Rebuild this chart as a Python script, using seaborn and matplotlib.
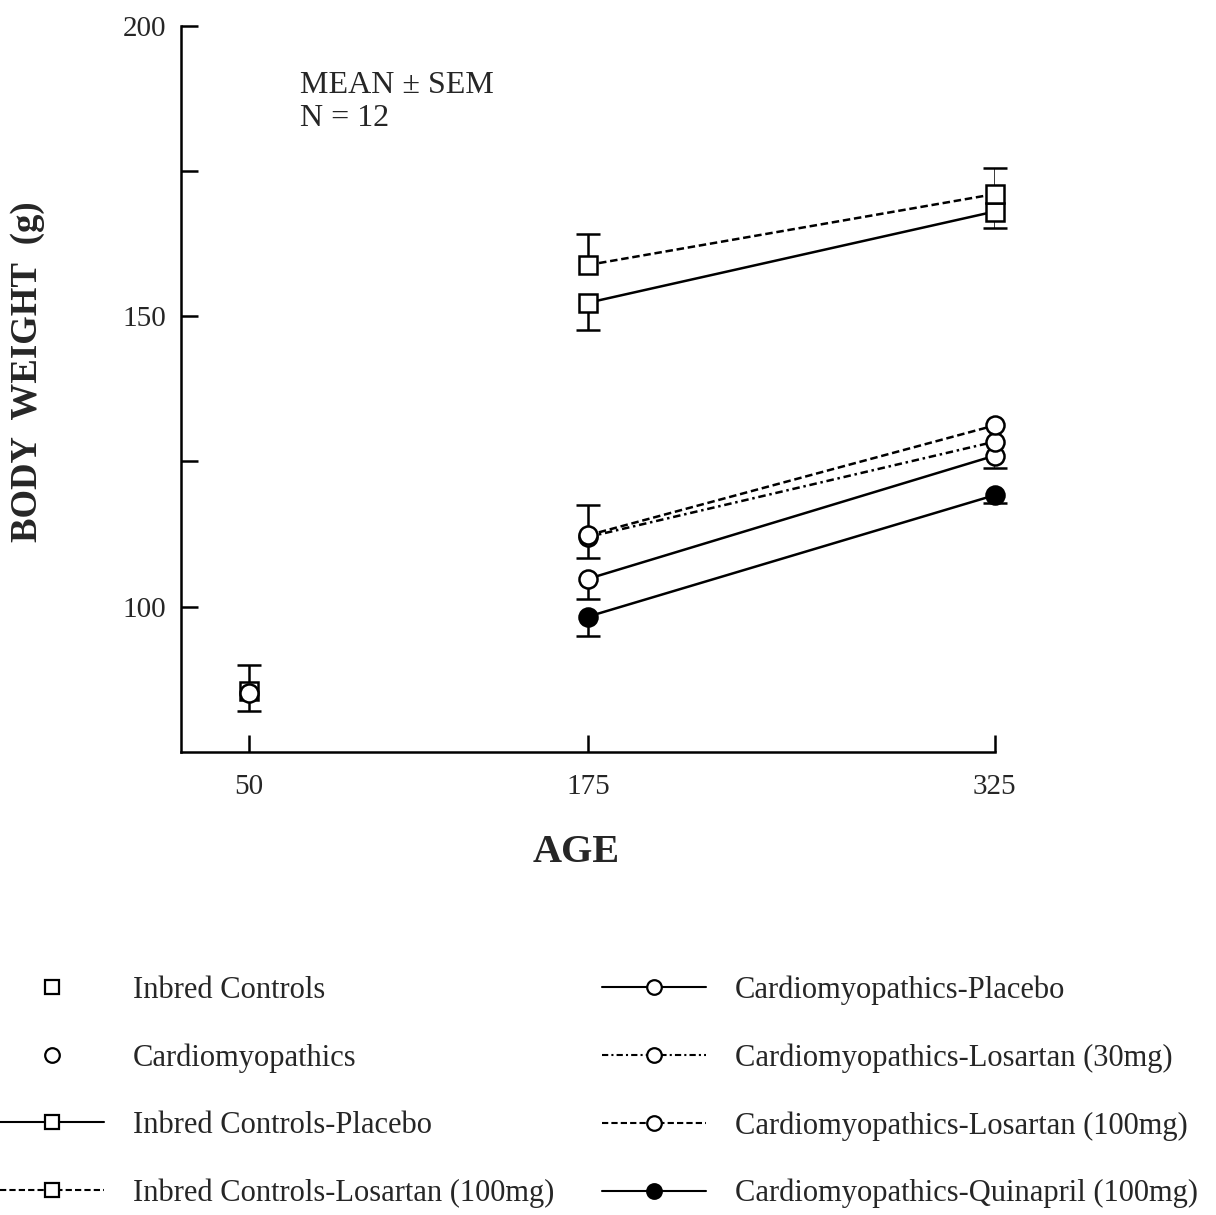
import numpy as np
import pandas as pd
import matplotlib
matplotlib.use("Agg")
import matplotlib.pyplot as plt
from matplotlib.lines import Line2D
import seaborn as sns

# data (body weight, g)
base_age = [50]
ic_base = [85.5]
ic_base_err_up = [4.5]
cm_base = [85.2]
cm_base_err_dn = [3.1]

ages = [175, 325]
ic_placebo = [152.3, 168.0]
ic_placebo_err_dn = [4.6, 2.9]
ic_losartan = [158.8, 171.0]
ic_losartan_err_up = [5.3, 4.5]
cm_placebo = [104.8, 126.0]
cm_placebo_err_dn = [3.4, 2.1]
cm_los30 = [112.0, 128.4]
cm_los30_err_dn = [3.6, 0.0]
cm_los100 = [112.3, 131.2]
cm_los100_err_up = [5.2, 0.0]
cm_quin = [98.3, 119.2]
cm_quin_err_dn = [3.4, 1.4]

labels = ["Inbred Controls", "Cardiomyopathics", "Inbred Controls-Placebo",
          "Inbred Controls-Losartan (100mg)", "Cardiomyopathics-Placebo",
          "Cardiomyopathics-Losartan (30mg)", "Cardiomyopathics-Losartan (100mg)",
          "Cardiomyopathics-Quinapril (100mg)"]

sns.set_style("ticks")
plt.rcParams["font.family"] = ["Liberation Serif", "DejaVu Serif"]

fig = plt.figure(figsize=(12.16, 12.15), dpi=100)
ax = fig.add_axes([0.149, 0.381, 0.669, 0.598])

lw = 1.8
ms = 13
dash_short = (0, (3, 1.5))
dash_dot = (0, (3, 1.5, 1, 1.5))


def sem_bars(x, y, err, sign):
    # one-sided SEM bar with a cap at the far end
    x = np.asarray(x, float)
    y = np.asarray(y, float)
    err = np.asarray(err, float)
    keep = err > 0
    end = y + sign * err
    ax.vlines(x[keep], y[keep], end[keep], color="black", linewidth=lw, zorder=1)
    ax.plot(x[keep], end[keep], linestyle="none", marker="_", markersize=17,
            markeredgewidth=lw, color="black", zorder=1, clip_on=False)


def series(x, y, marker, ls, face="white", lo=None, hi=None):
    if len(x) > 1:
        sns.lineplot(x=x, y=y, ax=ax, color="black", linestyle=ls, linewidth=lw,
                     marker=marker, markersize=ms, markerfacecolor=face,
                     markeredgecolor="black", markeredgewidth=lw, zorder=3,
                     clip_on=False)
    else:
        ax.plot(x, y, linestyle="none", marker=marker, markersize=ms,
                markerfacecolor=face, markeredgecolor="black",
                markeredgewidth=lw, zorder=3, clip_on=False)
    if lo is not None:
        sem_bars(x, y, lo, -1)
    if hi is not None:
        sem_bars(x, y, hi, 1)


series(base_age, ic_base, "s", "none", hi=ic_base_err_up)
series(base_age, cm_base, "o", "none", lo=cm_base_err_dn)
series(ages, ic_placebo, "s", "-", lo=ic_placebo_err_dn)
series(ages, ic_losartan, "s", dash_short, hi=ic_losartan_err_up)
series(ages, cm_placebo, "o", "-", lo=cm_placebo_err_dn)
series(ages, cm_los30, "o", dash_dot, lo=cm_los30_err_dn)
series(ages, cm_los100, "o", dash_short, hi=cm_los100_err_up)
series(ages, cm_quin, "o", "-", face="black", lo=cm_quin_err_dn)

ax.set_xlim(25, 325)
ax.set_ylim(75, 200)
ax.set_xticks([50, 175, 325])
ax.set_yticks([100, 150, 200])
ax.set_yticks([125, 175], minor=True)
ax.tick_params(axis="both", which="both", direction="in", length=12,
               width=1.8, labelsize=21, color="black")
ax.tick_params(axis="y", pad=11)
ax.tick_params(axis="x", pad=16)
sns.despine(ax=ax)
for s in ["left", "bottom"]:
    ax.spines[s].set_linewidth(1.8)
    ax.spines[s].set_color("black")

ax.set_xlabel("AGE", fontsize=29, fontweight="bold")
ax.xaxis.set_label_coords(0.485, -0.113)
ax.set_ylabel("BODY  WEIGHT  (g)", fontsize=26.5, fontweight="bold")
ax.yaxis.set_label_coords(-0.167, 0.524)

ax.text(0.146, 0.937, "MEAN \u00b1 SEM\nN = 12", transform=ax.transAxes,
        fontsize=23, va="top", ha="left", linespacing=1.15)

hkw = dict(color="black", markeredgecolor="black", markeredgewidth=1.6,
           markersize=10.5, linewidth=1.5)
handles = [
    Line2D([], [], marker="s", linestyle="none", markerfacecolor="white", **hkw),
    Line2D([], [], marker="o", linestyle="none", markerfacecolor="white", **hkw),
    Line2D([], [], marker="s", linestyle="-", markerfacecolor="white", **hkw),
    Line2D([], [], marker="s", linestyle=dash_short, markerfacecolor="white", **hkw),
    Line2D([], [], marker="o", linestyle="-", markerfacecolor="white", **hkw),
    Line2D([], [], marker="o", linestyle=dash_dot, markerfacecolor="white", **hkw),
    Line2D([], [], marker="o", linestyle=dash_short, markerfacecolor="white", **hkw),
    Line2D([], [], marker="o", linestyle="-", markerfacecolor="black", **hkw),
]
fig.legend(handles, labels, loc="upper left", bbox_to_anchor=(0.0, 0.197),
           ncol=2, frameon=False, fontsize=22.0, handlelength=3.4,
           handletextpad=0.95, labelspacing=1.25, columnspacing=1.55,
           borderpad=0, borderaxespad=0)

fig.savefig("out.png", dpi=100, facecolor="white")
